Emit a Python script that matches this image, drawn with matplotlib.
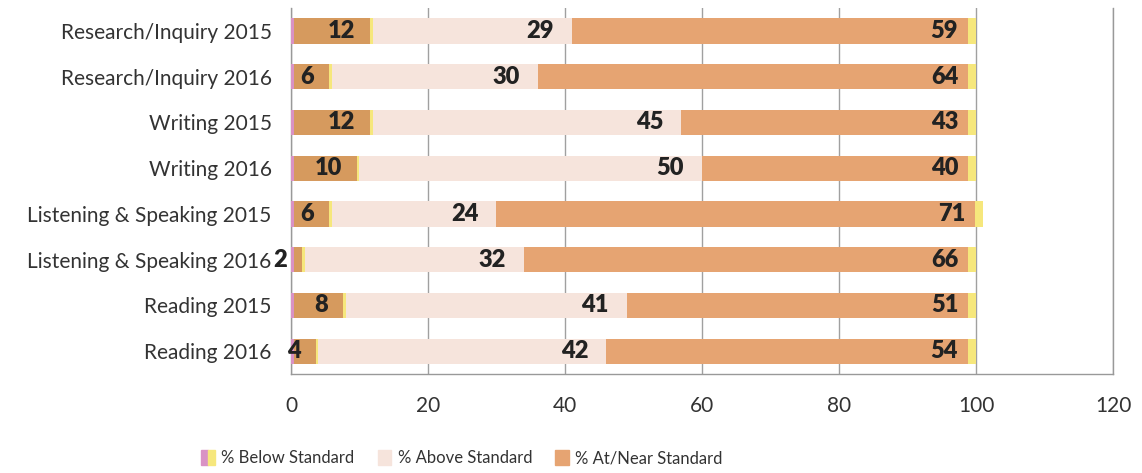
import matplotlib
matplotlib.use('Agg')
import matplotlib.pyplot as plt
from matplotlib.patches import Patch
from matplotlib.legend_handler import HandlerTuple
import numpy as np

# ── data ─────────────────────────────────────────────────────────────────────
categories = ['Research/Inquiry 2015', 'Research/Inquiry 2016',
              'Writing 2015', 'Writing 2016',
              'Listening & Speaking 2015', 'Listening & Speaking 2016',
              'Reading 2015', 'Reading 2016']
below  = [12, 6, 12, 10, 6, 2, 8, 4]
above  = [29, 30, 45, 50, 24, 32, 41, 42]
atnear = [59, 64, 43, 40, 71, 66, 51, 54]
xticks = [0, 20, 40, 60, 80, 100, 120]

# ── style ────────────────────────────────────────────────────────────────────
ORANGE1 = '#d69a5e'   # below standard body
LIGHT   = '#f6e4dc'   # above standard
ORANGE2 = '#e6a472'   # at/near standard
PINK    = '#d992c4'
YELLOW  = '#f6e77c'
TEXT    = '#333333'
GRID    = '#a0a0a0'
FONT    = 'Lato'

plt.rcParams['font.family'] = [FONT, 'DejaVu Sans']

fig = plt.figure(figsize=(11.42, 4.73), dpi=100, facecolor='white')
ax = fig.add_axes([0.2548, 0.209, 0.7198, 0.774])

y = np.arange(len(categories))
h = 0.55
b = np.array(below, dtype=float)
a = np.array(above, dtype=float)
n = np.array(atnear, dtype=float)

ax.barh(y, b, height=h, color=ORANGE1, zorder=2)
ax.barh(y, a, left=b, height=h, color=LIGHT, zorder=2)
ax.barh(y, n, left=b + a, height=h, color=ORANGE2, zorder=2)

# thin tinted edges on the orange segments
edge_l, edge_r = 0.45, 1.1
ax.barh(y, edge_l, left=0, height=h, color=PINK, zorder=3)
ax.barh(y, 0.4, left=b - 0.4, height=h, color=YELLOW, zorder=3)
ax.barh(y, edge_r, left=b + a + n - edge_r, height=h, color=YELLOW, zorder=3)

# value labels, right-aligned inside each segment end
off = 2.6
for i in range(len(categories)):
    ends = [b[i], b[i] + a[i], b[i] + a[i] + n[i]]
    vals = [below[i], above[i], atnear[i]]
    for e, v in zip(ends, vals):
        ax.text(e - off, y[i], f'{v}', ha='right', va='center',
                fontsize=17, fontweight='heavy', color='#222222', zorder=4)

ax.set_xlim(0, 120)
ax.set_ylim(len(categories) - 0.5, -0.5)
ax.set_xticks(xticks)
ax.set_yticks(y)
ax.set_yticklabels(categories)
ax.tick_params(axis='x', length=0, pad=16, labelsize=15, labelcolor=TEXT)
ax.tick_params(axis='y', length=0, pad=14, labelsize=15, labelcolor=TEXT)
ax.grid(axis='x', color=GRID, lw=1, zorder=1)
ax.set_axisbelow(True)
ax.spines['top'].set_visible(False)
for side in ['left', 'bottom', 'right']:
    ax.spines[side].set_color('#999999')
    ax.spines[side].set_linewidth(1)

handles = [(Patch(color=PINK), Patch(color=YELLOW)),
           Patch(color=LIGHT), Patch(color=ORANGE2)]
labels = ['% Below Standard', '% Above Standard', '% At/Near Standard']
fig.legend(handles, labels, loc='center', bbox_to_anchor=(462 / 1142, 1 - 458 / 473),
           ncol=3, frameon=False, fontsize=12, labelcolor=TEXT,
           handlelength=0.8, handleheight=1.0, handletextpad=0.4, columnspacing=1.4,
           handler_map={tuple: HandlerTuple(ndivide=None, pad=0)})

plt.savefig('out.png', dpi=100, facecolor='white')
plt.close()
